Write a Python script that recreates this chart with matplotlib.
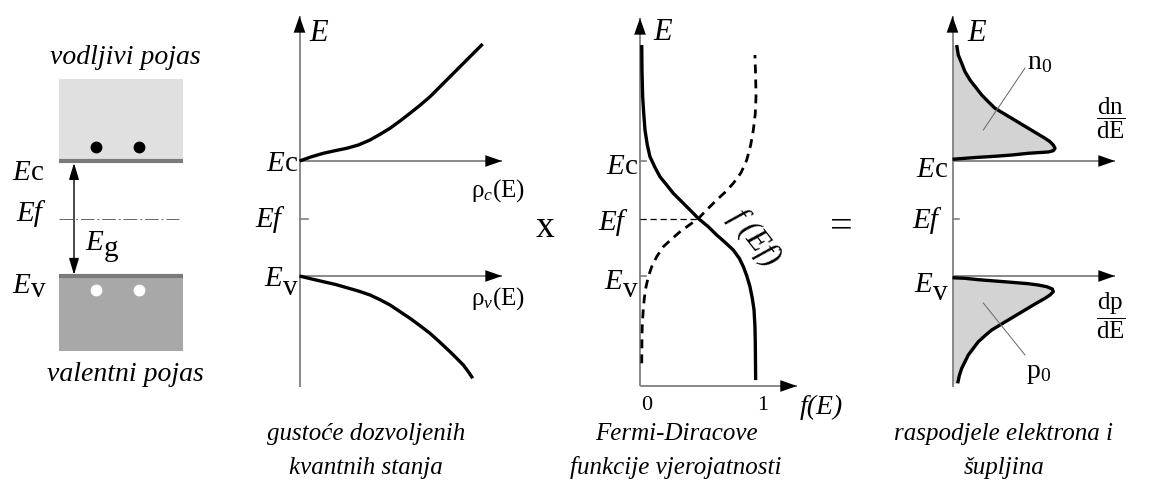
import matplotlib
matplotlib.use('Agg')
import matplotlib.pyplot as plt

plt.rcParams['font.family'] = 'serif'
plt.rcParams['font.serif'] = ['Liberation Serif', 'DejaVu Serif']
plt.rcParams['mathtext.fontset'] = 'custom'
plt.rcParams['mathtext.rm'] = 'Liberation Serif'
plt.rcParams['mathtext.it'] = 'Liberation Serif:italic'
plt.rcParams['mathtext.bf'] = 'Liberation Serif:bold'

W, H, DPI = 1163, 492, 100

# ---------------- data ----------------
E_C, E_F, E_V = 1.0, 0.0, -1.0

# panel 1: band diagram (x normalised to band width)
cond_band_E = [0.97, 2.43]
val_band_E = [-2.30, -0.98]
carrier_x = [0.30, 0.645]
electron_E = 1.24
hole_E = -1.24
gap_arrow_x = 0.121

# panel 2: density of states
rho_c = [0.0, 0.122, 0.238, 0.355, 0.472, 0.588, 0.705, 0.805, 0.905, 1.005,
         1.105, 1.205, 1.305, 1.405, 1.505, 1.605, 1.705, 1.832]
E_rho_c = [1.0, 1.075, 1.134, 1.179, 1.221, 1.278, 1.365, 1.464, 1.569, 1.696,
           1.830, 1.969, 2.118, 2.292, 2.466, 2.640, 2.814, 3.035]
rho_v = [0.0, 0.122, 0.238, 0.355, 0.472, 0.588, 0.705, 0.805, 0.905, 1.005,
         1.105, 1.205, 1.305, 1.405, 1.505, 1.572, 1.638, 1.688, 1.732]
E_rho_v = [-1.0, -1.052, -1.099, -1.145, -1.203, -1.261, -1.330, -1.412, -1.504,
           -1.620, -1.736, -1.864, -1.997, -2.153, -2.317, -2.432, -2.548,
           -2.664, -2.779]

# panel 3: Fermi-Dirac function f(E) (solid) and 1-f(E) (dashed)
f_solid = [0.015, 0.017, 0.023, 0.032, 0.043, 0.063, 0.086, 0.129, 0.172, 0.230,
           0.287, 0.345, 0.403, 0.460, 0.503, 0.589, 0.661, 0.733, 0.804, 0.856,
           0.891, 0.920, 0.948, 0.968, 0.983, 0.991, 0.994, 0.997]
E_solid = [3.017, 2.583, 2.118, 1.830, 1.539, 1.278, 1.075, 0.889, 0.727, 0.583,
           0.438, 0.322, 0.205, 0.090, 0.0, -0.143, -0.287, -0.414, -0.548,
           -0.692, -0.838, -0.995, -1.186, -1.388, -1.591, -1.882, -2.17, -2.81]
f_dash = [0.015, 0.017, 0.020, 0.028, 0.037, 0.052, 0.072, 0.101, 0.144, 0.201,
          0.273, 0.345, 0.425, 0.503, 0.580, 0.661, 0.733, 0.804, 0.871, 0.920,
          0.954, 0.977, 0.994, 1.0, 0.997, 0.991]
E_dash = [-2.518, -2.056, -1.823, -1.591, -1.388, -1.186, -1.012, -0.838, -0.664,
          -0.49, -0.357, -0.23, -0.113, 0.0, 0.16, 0.322, 0.456, 0.612, 0.796,
          1.017, 1.278, 1.539, 1.83, 2.118, 2.466, 2.843]
f_ticks = [0, 1]
f_ticklabels = ['0', '1']

# panel 4: carrier distributions dn/dE and dp/dE
dn_x = [0.042, 0.058, 0.092, 0.125, 0.175, 0.232, 0.292, 0.358, 0.425, 0.508,
        0.592, 0.675, 0.758, 0.842, 0.925, 0.975, 1.008, 1.025, 1.008, 0.958,
        0.758, 0.592, 0.425, 0.258, 0.125, 0.0]
dn_E = [3.017, 2.843, 2.699, 2.553, 2.409, 2.282, 2.148, 2.031, 1.917, 1.830,
        1.743, 1.656, 1.569, 1.482, 1.395, 1.336, 1.278, 1.221, 1.179, 1.157,
        1.134, 1.104, 1.082, 1.064, 1.047, 1.03]
dp_x = [0.0, 0.125, 0.258, 0.425, 0.592, 0.758, 0.858, 0.942, 0.998, 1.008,
        0.975, 0.925, 0.825, 0.725, 0.642, 0.558, 0.475, 0.392, 0.325, 0.258,
        0.208, 0.158, 0.125, 0.092, 0.068, 0.052]
dp_E = [-1.03, -1.04, -1.064, -1.087, -1.11, -1.134, -1.157, -1.186, -1.226,
        -1.273, -1.330, -1.388, -1.487, -1.591, -1.678, -1.765, -1.852, -1.939,
        -2.038, -2.143, -2.258, -2.374, -2.490, -2.605, -2.734, -2.866]

# ---------------- layout helpers ----------------
PY_EF, PX_PER_E = 218.5, 57.5
YLIM = ((PY_EF - H) / PX_PER_E, PY_EF / PX_PER_E)

fig = plt.figure(figsize=(W / DPI, H / DPI), dpi=DPI)


def make_ax(x0_px, sx_px):
    ax = fig.add_axes([0, 0, 1, 1])
    ax.set_xlim(-x0_px / sx_px, (W - x0_px) / sx_px)
    ax.set_ylim(*YLIM)
    ax.axis('off')
    ax.patch.set_alpha(0)
    return ax


def E_of(py):
    return (PY_EF - py) / PX_PER_E


AXC = '#808080'


def axis_arrow(ax, x0, y0, x1, y1):
    ax.plot([x0, x1], [y0, y1], color=AXC, lw=1.3, solid_capstyle='butt', zorder=2)
    ax.annotate('', xy=(x1, y1), xytext=(x0, y0),
                arrowprops=dict(arrowstyle='-|>,head_length=1.2,head_width=0.42',
                                color='black', lw=0.0, shrinkA=0, shrinkB=0,
                                mutation_scale=10), zorder=3)


def T(x, y, s, **kw):
    kw.setdefault('va', 'baseline')
    fig.text(x / W, 1 - y / H, s, **kw)


ESIZE = 21
SUBW = {'c': 0.444, 'v': 0.5, 'g': 0.5}


def elabel(x, y, sub, ha='right', drop=0):
    """E label with upright index letter; (x,y) = right (or left) edge, baseline, px."""
    wE = 0.64 * ESIZE * DPI / 72
    ws = SUBW[sub] * ESIZE * DPI / 72
    if ha == 'right':
        xs = x - ws
        xe = xs - wE
    else:
        xe = x
        xs = x + wE
    T(xe, y, 'E', style='italic', fontsize=ESIZE, ha='left')
    T(xs, y + drop, sub, fontsize=ESIZE, ha='left')


def eflabel(x, y, ha='right'):
    T(x, y, 'Ef', style='italic', fontsize=ESIZE, ha=ha)


CURVE = dict(color='black', lw=2.4, solid_joinstyle='round', solid_capstyle='butt')

# ---------------- panel 1 ----------------
ax1 = make_ax(59, 124)
ax1.fill_between([0, 1], cond_band_E[0], cond_band_E[1], color='#e0e0e0', lw=0)
ax1.fill_between([0, 1], val_band_E[0], val_band_E[1], color='#a8a8a8', lw=0)
ax1.plot([0, 1], [E_C, E_C], color='#7a7a7a', lw=3, solid_capstyle='butt')
ax1.plot([0, 1], [E_V, E_V], color='#7a7a7a', lw=3, solid_capstyle='butt')
ax1.plot(carrier_x, [electron_E] * 2, 'o', color='black', ms=7.5)
ax1.plot(carrier_x, [hole_E] * 2, 'o', color='white', ms=7.5)
ax1.plot([0.0, 0.97], [E_F, E_F], color='#666666', lw=0.7,
         linestyle=(0, (14, 3, 2, 3)))
ax1.annotate('', xy=(gap_arrow_x, E_C - 0.035), xytext=(gap_arrow_x, E_V + 0.02),
             arrowprops=dict(arrowstyle='<|-|>,head_length=1.0,head_width=0.3',
                             color='black', lw=1.0, shrinkA=0, shrinkB=0,
                             mutation_scale=10))
T(125, 64, 'vodljivi pojas', style='italic', fontsize=20, ha='center')
T(125, 381, 'valentni pojas', style='italic', fontsize=20, ha='center')
elabel(12, 180, 'c', ha='left')
T(16, 221, 'Ef', style='italic', fontsize=ESIZE, ha='left')
elabel(85, 250, 'g', ha='left', drop=6)
elabel(12, 293, 'v', ha='left', drop=4)

# ---------------- panel 2 ----------------
ax2 = make_ax(299.5, 100)
axis_arrow(ax2, 0, E_of(387), 0, E_of(16))
axis_arrow(ax2, 0, E_C, 2.025, E_C)
axis_arrow(ax2, 0, E_V, 2.025, E_V)
ax2.plot([0, 0.08], [E_F, E_F], color=AXC, lw=1.2)
ax2.plot(rho_c, E_rho_c, **CURVE)
ax2.plot(rho_v, E_rho_v, **CURVE)
T(309, 41, 'E', style='italic', fontsize=22, ha='left')
elabel(298, 171, 'c')
eflabel(281, 227)
elabel(298, 286, 'v', drop=9)
T(471, 197, r'$\mathrm{\rho}_{\mathit{c}}\mathrm{(E)}$', fontsize=18, ha='left')
T(471, 305, r'$\mathrm{\rho}_{\mathit{v}}\mathrm{(E)}$', fontsize=18, ha='left')

# ---------------- panel 3 ----------------
ax3 = make_ax(640, 116)
E_bottom3 = E_of(386)
axis_arrow(ax3, 0, E_bottom3, 0, E_of(18))
axis_arrow(ax3, 0, E_bottom3, 1.353, E_bottom3)
ax3.plot([0, 0.05], [E_C, E_C], color=AXC, lw=1.2)
ax3.plot([0, 0.05], [E_V, E_V], color=AXC, lw=1.2)
ax3.plot([0, 0.503], [E_F, E_F], color='black', lw=0.9, linestyle=(0, (5, 3)))
ax3.plot(f_solid, E_solid, **CURVE)
ax3.plot(f_dash, E_dash, color='black', lw=2.0, linestyle=(0, (3.2, 2.2)))
for fv, lab in zip(f_ticks, f_ticklabels):
    T(640 + fv * 116 + 7, 410, lab, fontsize=16, ha='center')
T(800, 414, 'f(E)', style='italic', fontsize=20, ha='left')
T(653, 40, 'E', style='italic', fontsize=22, ha='left')
elabel(638, 174, 'c')
eflabel(624, 230)
elabel(638, 289, 'v', drop=8)
fig.text(754 / W, 1 - 238 / H, 'f (Ef)', style='italic', fontsize=22,
         rotation=-52, rotation_mode='anchor', ha='center', va='center')
T(545, 228, 'x', fontsize=27, ha='center', va='center')

# ---------------- panel 4 ----------------
ax4 = make_ax(952.5, 100)
ax4.fill_betweenx(dn_E, 0, dn_x, color='#d3d3d3', lw=0)
ax4.fill_betweenx(dp_E, 0, dp_x, color='#d3d3d3', lw=0)
axis_arrow(ax4, 0, E_of(387), 0, E_of(16))
axis_arrow(ax4, 0, E_C, 1.625, E_C)
axis_arrow(ax4, 0, E_V, 1.625, E_V)
ax4.plot([0, 0.06], [E_F, E_F], color=AXC, lw=1.2)
ax4.plot(dn_x, dn_E, **CURVE)
ax4.plot(dp_x, dp_E, **CURVE)
ax4.plot([0.725, 0.308], [E_of(68), E_of(130)], color='#666666', lw=0.7)
ax4.plot([0.308, 0.725], [E_of(303), E_of(355)], color='#666666', lw=0.7)
T(1027, 69, r'$\mathrm{n}_{0}$', fontsize=20, ha='left')
T(1026, 378, r'$\mathrm{p}_{0}$', fontsize=20, ha='left')
T(1111, 118, r'$\dfrac{\mathrm{dn}}{\mathrm{dE}}$', fontsize=18, ha='center', va='center')
T(1111, 316, r'$\dfrac{\mathrm{dp}}{\mathrm{dE}}$', fontsize=18, ha='center', va='center')
T(967, 41, 'E', style='italic', fontsize=22, ha='left')
elabel(948, 177, 'c')
eflabel(938, 228)
elabel(948, 292, 'v', drop=8)
T(841, 228, '=', fontsize=29, ha='center', va='center')

# ---------------- captions ----------------
CAP = 18
T(366, 440, 'gustoće dozvoljenih', style='italic', fontsize=CAP, ha='center')
T(366, 474, 'kvantnih stanja', style='italic', fontsize=CAP, ha='center')
T(676, 440, 'Fermi-Diracove', style='italic', fontsize=CAP, ha='center')
T(676, 474, 'funkcije vjerojatnosti', style='italic', fontsize=CAP, ha='center')
T(1004, 440, 'raspodjele elektrona i', style='italic', fontsize=CAP, ha='center')
T(1004, 474, 'šupljina', style='italic', fontsize=CAP, ha='center')

fig.savefig('out.png', dpi=DPI)
